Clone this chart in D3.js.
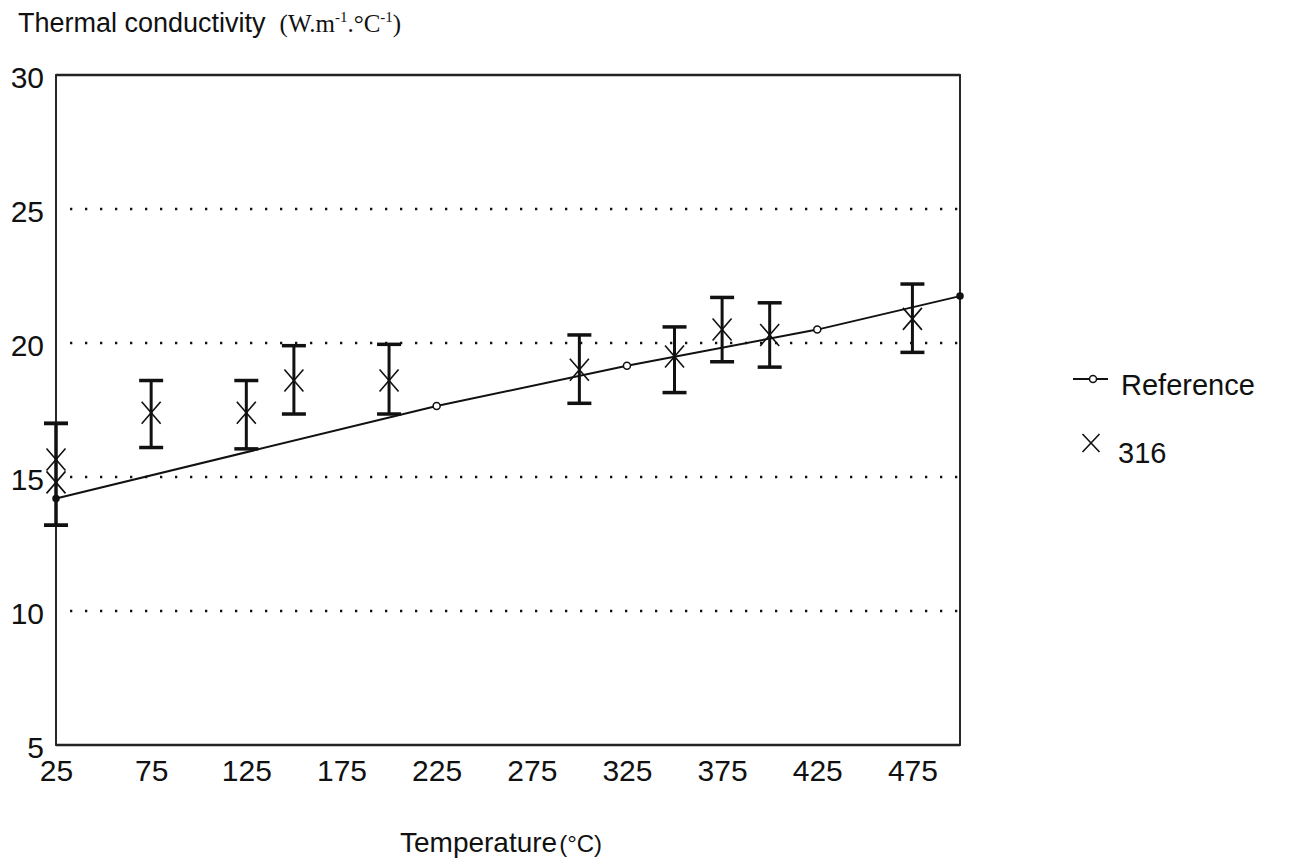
<!DOCTYPE html>
<html>
<head>
<meta charset="utf-8">
<script src="https://cdn.jsdelivr.net/npm/d3@7"></script>
<style>
  html, body { margin: 0; padding: 0; background: #fff; }
  svg { display: block; }
</style>
</head>
<body>
<svg id="chart" width="1295" height="867"></svg>
<script>
// ---- data ----
const xTicks = [25, 75, 125, 175, 225, 275, 325, 375, 425, 475];
const yTicks = [5, 10, 15, 20, 25, 30];
const gridValues = [10, 15, 20, 25];

const refTemps = [25, 225, 325, 425, 500];
const refValues = [14.2, 17.65, 19.15, 20.5, 21.75];

const temps316 = [25, 25, 75, 125, 150, 200, 300, 350, 375, 400, 475];
const values316 = [15.65, 14.8, 17.4, 17.4, 18.6, 18.6, 19.0, 19.5, 20.5, 20.3, 20.9];
const upper316 = [17.0, 17.0, 18.6, 18.6, 19.9, 19.95, 20.3, 20.6, 21.7, 21.5, 22.2];
const lower316 = [13.2, 13.2, 16.1, 16.05, 17.35, 17.35, 17.75, 18.15, 19.3, 19.1, 19.65];

const seriesNames = ["Reference", "316"];

// ---- layout ----
const svg = d3.select("#chart");
const L = 56, R = 960, T = 75, B = 745;
const sans = "'Liberation Sans', Arial, Helvetica, sans-serif";
const serif = "'Liberation Serif', 'Times New Roman', serif";

const x = d3.scaleLinear().domain([25, 500]).range([L, R]);
const y = d3.scaleLinear().domain([5, 30]).range([B, T]);

// grid (dotted)
svg.append("g").selectAll("line").data(gridValues).join("line")
  .attr("x1", L + 14).attr("x2", R)
  .attr("y1", d => y(d)).attr("y2", d => y(d))
  .attr("stroke", "#111").attr("stroke-width", 2.3)
  .attr("stroke-dasharray", "2.3 12.7");

// frame
svg.append("rect").attr("x", L).attr("y", T).attr("width", R - L).attr("height", B - T)
  .attr("fill", "none").attr("stroke", "#111").attr("stroke-width", 1.8);
svg.append("line").attr("x1", L).attr("x2", R).attr("y1", T).attr("y2", T)
  .attr("stroke", "#222").attr("stroke-width", 2.4);
svg.append("line").attr("x1", L).attr("x2", R).attr("y1", B).attr("y2", B)
  .attr("stroke", "#222").attr("stroke-width", 2.4);

// y axis labels
const yAxis = d3.axisLeft(y).tickValues(yTicks).tickSize(0).tickPadding(12).tickFormat(d3.format("d"));
const gy = svg.append("g").attr("transform", `translate(${L},0)`).call(yAxis);
gy.select(".domain").remove();
gy.selectAll("text").attr("font-family", sans).attr("font-size", 30).attr("fill", "#111").attr("dy", "0.4em");

// x axis labels
const xAxis = d3.axisBottom(x).tickValues(xTicks).tickSize(0).tickPadding(0).tickFormat(d3.format("d"));
const gx = svg.append("g").attr("transform", `translate(0,${B})`).call(xAxis);
gx.select(".domain").remove();
gx.selectAll("text").attr("font-family", sans).attr("font-size", 30).attr("fill", "#111").attr("dy", "1.2em");

// reference line
const line = d3.line().x((d, i) => x(refTemps[i])).y(d => y(d));
svg.append("path").datum(refValues).attr("d", line)
  .attr("fill", "none").attr("stroke", "#111").attr("stroke-width", 2);
svg.append("g").selectAll("circle").data(refValues).join("circle")
  .attr("cx", (d, i) => x(refTemps[i])).attr("cy", d => y(d))
  .attr("r", (d, i) => (i === 0 || i === refValues.length - 1) ? 3 : 3.5)
  .attr("fill", (d, i) => (i === 0 || i === refValues.length - 1) ? "#111" : "#fff")
  .attr("stroke", "#111").attr("stroke-width", 1.5);

// error bars
const eb = svg.append("g");
eb.selectAll("line.v").data(temps316).join("line").attr("class", "v")
  .attr("x1", d => x(d)).attr("x2", d => x(d))
  .attr("y1", (d, i) => y(upper316[i])).attr("y2", (d, i) => y(lower316[i]))
  .attr("stroke", "#111").attr("stroke-width", 3);
eb.selectAll("line.cu").data(temps316).join("line").attr("class", "cu")
  .attr("x1", d => x(d) - 12).attr("x2", d => x(d) + 12)
  .attr("y1", (d, i) => y(upper316[i])).attr("y2", (d, i) => y(upper316[i]))
  .attr("stroke", "#111").attr("stroke-width", 3.5);
eb.selectAll("line.cl").data(temps316).join("line").attr("class", "cl")
  .attr("x1", d => x(d) - 12).attr("x2", d => x(d) + 12)
  .attr("y1", (d, i) => y(lower316[i])).attr("y2", (d, i) => y(lower316[i]))
  .attr("stroke", "#111").attr("stroke-width", 3.5);

// X markers
const xMark = (cx, cy, w, h) => `M${cx - w / 2},${cy - h / 2}L${cx + w / 2},${cy + h / 2}M${cx - w / 2},${cy + h / 2}L${cx + w / 2},${cy - h / 2}`;
svg.append("g").selectAll("path").data(values316).join("path")
  .attr("d", (d, i) => xMark(x(temps316[i]), y(d), 19, 22))
  .attr("fill", "none").attr("stroke", "#111").attr("stroke-width", 1.6);

// title
const title = svg.append("text").attr("x", 18).attr("y", 32).attr("fill", "#111");
title.append("tspan").attr("font-family", sans).attr("font-size", 27).text("Thermal conductivity");
title.append("tspan").attr("font-family", serif).attr("font-size", 25).attr("dx", 14).text("(W.m");
title.append("tspan").attr("font-family", serif).attr("font-size", 15).attr("dy", -10).text("-1");
title.append("tspan").attr("font-family", serif).attr("font-size", 25).attr("dy", 10).text(".°C");
title.append("tspan").attr("font-family", serif).attr("font-size", 15).attr("dy", -10).text("-1");
title.append("tspan").attr("font-family", serif).attr("font-size", 25).attr("dy", 10).text(")");

// x axis title
const xt = svg.append("text").attr("x", 400).attr("y", 852).attr("fill", "#111");
xt.append("tspan").attr("font-family", sans).attr("font-size", 28).text("Temperature");
xt.append("tspan").attr("font-family", sans).attr("font-size", 24).attr("dx", 2).text("(°C)");

// legend
const lg = svg.append("g");
lg.append("line").attr("x1", 1073).attr("x2", 1108).attr("y1", 379).attr("y2", 379)
  .attr("stroke", "#111").attr("stroke-width", 2);
lg.append("circle").attr("cx", 1093).attr("cy", 379).attr("r", 3.5)
  .attr("fill", "#fff").attr("stroke", "#111").attr("stroke-width", 1.5);
lg.append("text").attr("x", 1121).attr("y", 395).attr("font-family", sans).attr("font-size", 29)
  .attr("fill", "#111").text(seriesNames[0]);
lg.append("path").attr("d", xMark(1091, 443, 17, 18)).attr("fill", "none").attr("stroke", "#111").attr("stroke-width", 1.6);
lg.append("text").attr("x", 1118).attr("y", 463).attr("font-family", sans).attr("font-size", 29)
  .attr("fill", "#111").text(seriesNames[1]);
</script>
</body>
</html>
